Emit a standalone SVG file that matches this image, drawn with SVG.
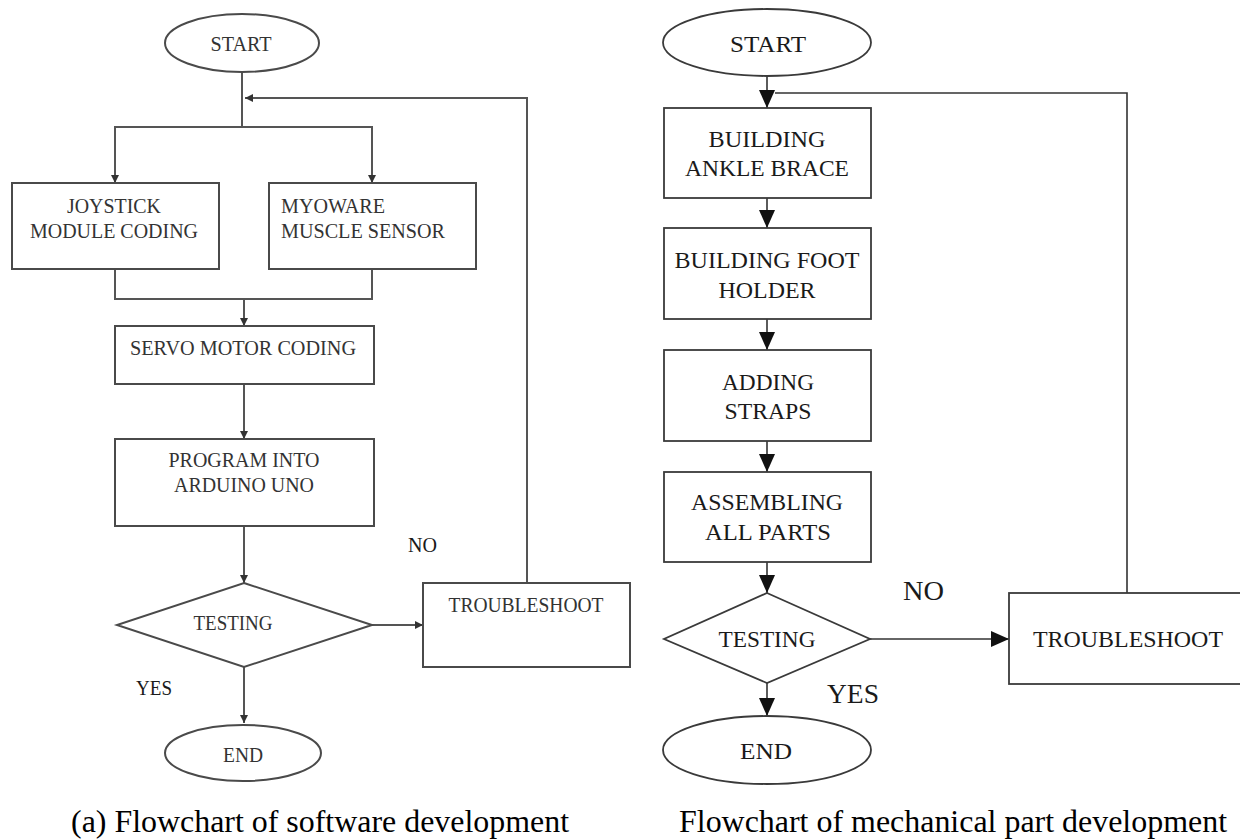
<svg xmlns="http://www.w3.org/2000/svg" width="1240" height="840" viewBox="0 0 1240 840">
  <defs>
    <marker id="arrowSmall" viewBox="0 0 8 8" refX="8" refY="4" markerWidth="8" markerHeight="8" markerUnits="userSpaceOnUse" orient="auto">
      <path d="M0,0 L8,4 L0,8 z" fill="#333"/>
    </marker>
    <marker id="arrowLarge" viewBox="0 0 18 16" refX="18" refY="8" markerWidth="18" markerHeight="16" markerUnits="userSpaceOnUse" orient="auto">
      <path d="M0,0 L18,8 L0,16 z" fill="#111"/>
    </marker>
  </defs>
  <style>
    .shapeA { fill: #fff; stroke: #4a4a4a; stroke-width: 2; }
    .shapeB { fill: #fff; stroke: #3a3a3a; stroke-width: 1.8; }
    .lineA { fill: none; stroke: #555; stroke-width: 2; }
    .lineB { fill: none; stroke: #333; stroke-width: 1.6; }
    .txtA { font-size: 22px; fill: #333; }
    .txtB { font-size: 23px; fill: #1a1a1a; }
    .lbl { fill: #1a1a1a; }
    .cap { font-size: 32px; fill: #000; }
    .mid { text-anchor: middle; }
  </style>
  <rect width="1240" height="840" fill="#fff"/>

  <!-- Software development flowchart: connectors -->
  <g id="connectors-software">
    <path class="lineA" d="M242,72 V127"/>
    <path class="lineA" d="M242,127 H115 V183" marker-end="url(#arrowSmall)"/>
    <path class="lineA" d="M242,127 H372 V183" marker-end="url(#arrowSmall)"/>
    <path class="lineA" d="M527,583 V98 H245" marker-end="url(#arrowSmall)"/>
    <path class="lineA" d="M115,269 V299 H372 V269"/>
    <path class="lineA" d="M244,299 V326" marker-end="url(#arrowSmall)"/>
    <path class="lineA" d="M244,384 V439" marker-end="url(#arrowSmall)"/>
    <path class="lineA" d="M244,526 V583" marker-end="url(#arrowSmall)"/>
    <path class="lineA" d="M372,625 H423" marker-end="url(#arrowSmall)"/>
    <path class="lineA" d="M244,667 V723" marker-end="url(#arrowSmall)"/>
  </g>

  <g font-family="Liberation Serif, DejaVu Serif, Times New Roman, serif">
  <!-- Software development flowchart: nodes -->
  <g id="sw-start">
    <ellipse class="shapeA" cx="242" cy="43" rx="77" ry="29"/>
    <text class="txtA mid" x="241" y="51" textLength="61" lengthAdjust="spacingAndGlyphs">START</text>
  </g>
  <g id="sw-joystick">
    <rect class="shapeA" x="12" y="183" width="207" height="86"/>
    <text class="txtA mid" x="114" y="213" textLength="94" lengthAdjust="spacingAndGlyphs">JOYSTICK</text>
    <text class="txtA mid" x="114" y="238" textLength="168" lengthAdjust="spacingAndGlyphs">MODULE CODING</text>
  </g>
  <g id="sw-myoware">
    <rect class="shapeA" x="269" y="183" width="207" height="86"/>
    <text class="txtA" x="281" y="213" textLength="104" lengthAdjust="spacingAndGlyphs">MYOWARE</text>
    <text class="txtA" x="281" y="238" textLength="164" lengthAdjust="spacingAndGlyphs">MUSCLE SENSOR</text>
  </g>
  <g id="sw-servo">
    <rect class="shapeA" x="115" y="326" width="259" height="58"/>
    <text class="txtA mid" x="243" y="355" textLength="226" lengthAdjust="spacingAndGlyphs">SERVO MOTOR CODING</text>
  </g>
  <g id="sw-program">
    <rect class="shapeA" x="115" y="439" width="259" height="87"/>
    <text class="txtA mid" x="244" y="467" textLength="151" lengthAdjust="spacingAndGlyphs">PROGRAM INTO</text>
    <text class="txtA mid" x="244" y="492" textLength="140" lengthAdjust="spacingAndGlyphs">ARDUINO UNO</text>
  </g>
  <g id="sw-testing">
    <polygon class="shapeA" points="244,583 372,625 244,667 117,625"/>
    <text class="txtA mid" x="233" y="630" textLength="79" lengthAdjust="spacingAndGlyphs">TESTING</text>
  </g>
  <g id="sw-troubleshoot">
    <rect class="shapeA" x="423" y="583" width="207" height="84"/>
    <text class="txtA mid" x="526" y="612" textLength="155" lengthAdjust="spacingAndGlyphs">TROUBLESHOOT</text>
  </g>
  <g id="sw-end">
    <ellipse class="shapeA" cx="243" cy="753" rx="78" ry="28"/>
    <text class="txtA mid" x="243" y="762" textLength="40" lengthAdjust="spacingAndGlyphs">END</text>
  </g>
  <g id="sw-labels">
    <text class="lbl" x="408" y="552" font-size="21" fill="#333" textLength="29" lengthAdjust="spacingAndGlyphs">NO</text>
    <text class="lbl" x="136" y="695" font-size="21" fill="#333" textLength="36" lengthAdjust="spacingAndGlyphs">YES</text>
  </g>
  </g>

  <!-- Mechanical part flowchart: connectors -->
  <g id="connectors-mechanical">
    <path class="lineB" d="M767,76 V108" marker-end="url(#arrowLarge)"/>
    <path class="lineB" d="M1127,593 V93 H775"/>
    <path class="lineB" d="M767,198 V228" marker-end="url(#arrowLarge)"/>
    <path class="lineB" d="M767,319 V350" marker-end="url(#arrowLarge)"/>
    <path class="lineB" d="M767,441 V472" marker-end="url(#arrowLarge)"/>
    <path class="lineB" d="M767,562 V593" marker-end="url(#arrowLarge)"/>
    <path class="lineB" d="M870,639 H1009" marker-end="url(#arrowLarge)"/>
    <path class="lineB" d="M767,683 V716" marker-end="url(#arrowLarge)"/>
  </g>

  <g font-family="Liberation Serif, DejaVu Serif, Times New Roman, serif">
  <!-- Mechanical part flowchart: nodes -->
  <g id="mech-start">
    <ellipse class="shapeB" cx="767" cy="42.5" rx="104" ry="33.5"/>
    <text class="txtB mid" x="768" y="52" textLength="76" lengthAdjust="spacingAndGlyphs">START</text>
  </g>
  <g id="mech-ankle">
    <rect class="shapeB" x="664" y="108" width="207" height="90"/>
    <text class="txtB mid" x="767" y="147" textLength="117" lengthAdjust="spacingAndGlyphs">BUILDING</text>
    <text class="txtB mid" x="767" y="176" textLength="164" lengthAdjust="spacingAndGlyphs">ANKLE BRACE</text>
  </g>
  <g id="mech-foot">
    <rect class="shapeB" x="664" y="228" width="207" height="91"/>
    <text class="txtB mid" x="767" y="268" textLength="185" lengthAdjust="spacingAndGlyphs">BUILDING FOOT</text>
    <text class="txtB mid" x="767" y="298" textLength="97" lengthAdjust="spacingAndGlyphs">HOLDER</text>
  </g>
  <g id="mech-straps">
    <rect class="shapeB" x="664" y="350" width="207" height="91"/>
    <text class="txtB mid" x="768" y="390" textLength="92" lengthAdjust="spacingAndGlyphs">ADDING</text>
    <text class="txtB mid" x="768" y="419" textLength="87" lengthAdjust="spacingAndGlyphs">STRAPS</text>
  </g>
  <g id="mech-assemble">
    <rect class="shapeB" x="664" y="472" width="207" height="90"/>
    <text class="txtB mid" x="767" y="510" textLength="152" lengthAdjust="spacingAndGlyphs">ASSEMBLING</text>
    <text class="txtB mid" x="768" y="540" textLength="126" lengthAdjust="spacingAndGlyphs">ALL PARTS</text>
  </g>
  <g id="mech-testing">
    <polygon class="shapeB" points="767,593 870,639 767,683 664,639"/>
    <text class="txtB mid" x="767" y="647" textLength="97" lengthAdjust="spacingAndGlyphs">TESTING</text>
  </g>
  <g id="mech-troubleshoot">
    <rect class="shapeB" x="1009" y="593" width="245" height="91"/>
    <text class="txtB mid" x="1128" y="647" textLength="190" lengthAdjust="spacingAndGlyphs">TROUBLESHOOT</text>
  </g>
  <g id="mech-end">
    <ellipse class="shapeB" cx="767" cy="750" rx="104" ry="34"/>
    <text class="txtB mid" x="766" y="759" textLength="52" lengthAdjust="spacingAndGlyphs">END</text>
  </g>
  <g id="mech-labels">
    <text class="lbl" x="903" y="600" font-size="28" textLength="41" lengthAdjust="spacingAndGlyphs">NO</text>
    <text class="lbl" x="827" y="703" font-size="28" textLength="52" lengthAdjust="spacingAndGlyphs">YES</text>
  </g>

  <!-- Captions -->
  <g id="captions">
    <text class="cap" x="71" y="832" textLength="498" lengthAdjust="spacingAndGlyphs">(a) Flowchart of software development</text>
    <text class="cap" x="679" y="832" textLength="548" lengthAdjust="spacingAndGlyphs">Flowchart of mechanical part development</text>
  </g>
  </g>
</svg>
